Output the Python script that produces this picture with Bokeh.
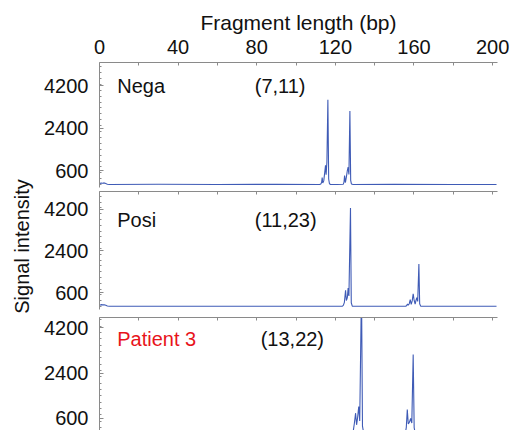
import math
from bokeh.plotting import figure
from bokeh.models import Range1d, FixedTicker, Label
from bokeh.layouts import column, row
from bokeh.embed import file_html
from bokeh.resources import INLINE

# ---- data ----
x_ticks = [0, 40, 80, 120, 160, 200]
x_minor = [20, 60, 100, 140, 180]
x_all = [0, 20, 40, 60, 80, 100, 120, 140, 160, 180, 200]
y_ticks = [600, 2400, 4200]
y_minor = [0, 250, 500, 750, 1000, 1250, 1500, 1750, 2000, 2250, 2500, 2750, 3000,
           3250, 3500, 3750, 4000, 4250, 4500, 4750, 5000]

names = ["Nega", "Posi", "Patient 3"]
counts = ["(7,11)", "(11,23)", "(13,22)"]

nega_x = [0, 0.8, 1.6, 2.4, 3.2, 4.0, 5.0, 30, 60, 90, 112.0, 112.6, 113.0, 113.3, 113.6,
          114.1, 114.6, 115.0, 115.3, 115.7, 116.2, 116.6, 117.0, 117.6, 121, 124.0, 124.4,
          124.7, 125.1, 125.6, 126.1, 126.5, 126.9, 127.4, 127.8, 128.2, 129, 150, 180, 202]
nega_y = [40, 70, 60, 75, 45, 20, 10, 15, 10, 12, 10, 30, 90, 300, 70,
          160, 520, 820, 420, 950, 3600, 240, 40, 10, 10, 15, 110,
          390, 90, 320, 600, 740, 430, 3120, 180, 25, 10, 12, 10, 10]

posi_x = [0, 0.8, 1.6, 2.4, 3.2, 4.0, 5.0, 40, 80, 110, 123.6, 124.1, 124.6, 125.2, 125.6,
          126.1, 126.5, 126.9, 127.7, 128.1, 128.6, 132, 150, 155.8, 156.3, 156.7, 157.1,
          157.6, 158.1, 158.6, 159.1, 159.6, 160.1, 160.6, 161.0, 161.4, 161.9, 162.5,
          162.9, 163.4, 170, 190, 202]
posi_y = [50, 80, 70, 75, 50, 20, 10, 12, 10, 10, 10, 60, 180, 700, 260,
          380, 800, 450, 4250, 160, 15, 10, 10, 10, 40, 110, 60,
          120, 300, 90, 240, 550, 260, 100, 250, 380, 220, 1830,
          120, 15, 10, 10, 10]

pat_x = [0, 0.8, 1.6, 2.4, 3.2, 4.0, 5.0, 50, 100, 128.6, 129.2, 129.7, 130.3, 130.8,
         131.3, 131.9, 132.4, 133.3, 133.8, 134.4, 140, 150, 155.6, 156.1, 156.6, 157.1,
         157.7, 158.3, 158.9, 159.6, 160.1, 160.6, 170, 190, 202]
pat_y = [60, 90, 70, 85, 50, 20, 10, 12, 10, 10, 150, 420, 810, 350,
         620, 1075, 500, 5800, 300, 30, 10, 10, 10, 250, 950, 380,
         450, 600, 420, 3130, 240, 20, 10, 10, 10]

series = [(nega_x, nega_y), (posi_x, posi_y), (pat_x, pat_y)]
for xs, ys in series:
    assert len(xs) == len(ys)

FONT = "Liberation Sans"
AXIS_COL = "#8a8a8a"
LINE_COL = "#3f5bb6"
TXT = "#111111"
LEFT_W = 40

specs = [
    dict(h=189, yr=(-120, 5175), bt=62, bb=2, ly=4200, col=TXT),
    dict(h=123, yr=(-130, 4960), bt=2, bb=3, ly=3750, col=TXT),
    dict(h=118, yr=(125, 4596), bt=5, bb=0, ly=3765, col="#e8141b"),
]

figs = []
for i, (sp, (xs, ys)) in enumerate(zip(specs, series)):
    p = figure(width=513 - LEFT_W, height=sp["h"], x_range=Range1d(0, 202.5),
               y_range=Range1d(*sp["yr"]), x_axis_location="above",
               output_backend="svg", toolbar_location=None,
               min_border_left=99 - LEFT_W, min_border_right=16,
               min_border_top=sp["bt"], min_border_bottom=sp["bb"])
    p.grid.visible = False
    p.outline_line_color = None
    p.background_fill_color = "white"
    p.border_fill_color = "white"

    xa = p.xaxis[0]
    xa.axis_line_color = AXIS_COL
    xa.major_tick_line_color = AXIS_COL
    xa.minor_tick_line_color = AXIS_COL
    xa.major_tick_in = 3
    xa.major_tick_out = 0
    xa.minor_tick_in = 3
    xa.minor_tick_out = 0
    if i == 0:
        xa.ticker = FixedTicker(ticks=x_ticks, minor_ticks=x_minor)
        xa.axis_label = "Fragment length (bp)"
        xa.axis_label_text_font = FONT
        xa.axis_label_text_font_size = "21px"
        xa.axis_label_text_font_style = "normal"
        xa.axis_label_text_color = TXT
        xa.axis_label_standoff = 3
        xa.major_label_text_font = FONT
        xa.major_label_text_font_size = "20px"
        xa.major_label_text_color = TXT
        xa.major_label_standoff = 9
    else:
        xa.ticker = FixedTicker(ticks=[], minor_ticks=x_all)

    ya = p.yaxis[0]
    ya.ticker = FixedTicker(ticks=y_ticks, minor_ticks=y_minor)
    ya.axis_line_color = AXIS_COL
    ya.major_tick_line_color = AXIS_COL
    ya.minor_tick_line_color = AXIS_COL
    ya.major_tick_in = 4
    ya.major_tick_out = 0
    ya.minor_tick_in = 2
    ya.minor_tick_out = 0
    ya.major_label_text_font = FONT
    ya.major_label_text_font_size = "20px"
    ya.major_label_text_color = TXT
    ya.major_label_standoff = 11

    p.line(xs, ys, line_color=LINE_COL, line_width=1.1)

    p.add_layout(Label(x=9, y=sp["ly"], text=names[i], text_font=FONT,
                       text_font_size="20px", text_color=sp["col"],
                       text_baseline="middle"))
    p.add_layout(Label(x=79 if i < 2 else 82, y=sp["ly"], text=counts[i], text_font=FONT,
                       text_font_size="20px", text_color=TXT,
                       text_baseline="middle"))
    figs.append(p)

# narrow strip carrying the shared y-axis title
side = figure(width=LEFT_W, height=430, x_range=Range1d(0, 1), y_range=Range1d(0, 1),
              x_axis_location=None, y_axis_location=None,
              output_backend="svg", toolbar_location=None,
              min_border_left=0, min_border_right=0, min_border_top=0, min_border_bottom=0)
side.grid.visible = False
side.outline_line_color = None
side.border_fill_color = "white"
side.add_layout(Label(x=21, y=430 - 246, x_units="screen", y_units="screen",
                      text="Signal intensity", angle=math.pi / 2,
                      text_font=FONT, text_font_size="20px", text_color=TXT,
                      text_align="center", text_baseline="middle"))

layout = row(side, column(*figs, spacing=0), spacing=0)
open("out.html", "w").write(file_html(layout, INLINE))
